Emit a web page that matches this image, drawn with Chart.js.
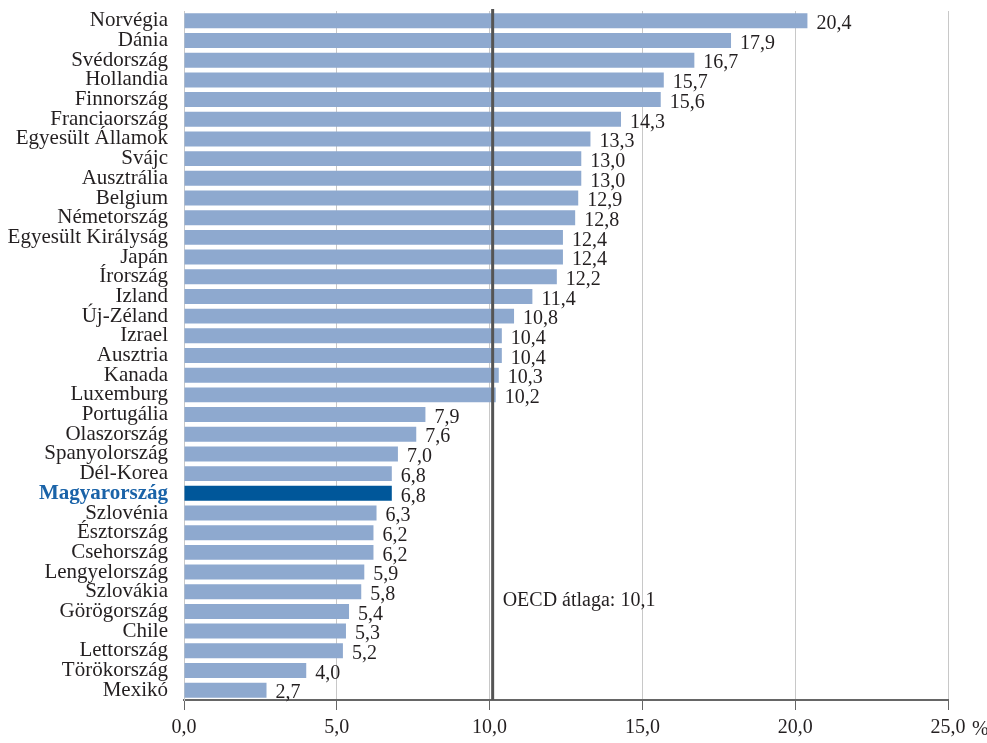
<!DOCTYPE html>
<html lang="hu">
<head>
<meta charset="UTF-8">
<title>OECD</title>
<script src="https://cdn.jsdelivr.net/npm/chart.js"></script>
<style>
  body { margin: 0; background: #fff; }
  #wrap { width: 987px; height: 743px; }
</style>
</head>
<body>
<div id="wrap"><canvas id="chart" width="987" height="743"></canvas></div>
<script>
const countries = ['Norvégia', 'Dánia', 'Svédország', 'Hollandia', 'Finnország', 'Franciaország',
  'Egyesült Államok', 'Svájc', 'Ausztrália', 'Belgium', 'Németország', 'Egyesült Királyság',
  'Japán', 'Írország', 'Izland', 'Új-Zéland', 'Izrael', 'Ausztria', 'Kanada', 'Luxemburg',
  'Portugália', 'Olaszország', 'Spanyolország', 'Dél-Korea', 'Magyarország', 'Szlovénia',
  'Észtország', 'Csehország', 'Lengyelország', 'Szlovákia', 'Görögország', 'Chile',
  'Lettország', 'Törökország', 'Mexikó'];
const values = [20.4, 17.9, 16.7, 15.7, 15.6, 14.3, 13.3, 13.0, 13.0, 12.9, 12.8, 12.4,
  12.4, 12.2, 11.4, 10.8, 10.4, 10.4, 10.3, 10.2, 7.9, 7.6, 7.0, 6.8, 6.8, 6.3,
  6.2, 6.2, 5.9, 5.8, 5.4, 5.3, 5.2, 4.0, 2.7];
const highlight = 'Magyarország';
const oecdAvg = 10.1;
const oecdLabel = 'OECD átlaga: 10,1';
const xTicks = [0, 5, 10, 15, 20, 25];

const FONT = "'Liberation Serif', 'Times New Roman', serif";
const TEXT = '#231f20';
const fmt = v => v.toFixed(1).replace('.', ',');

// value labels, OECD line and the % sign
const extras = {
  id: 'extras',
  afterDatasetsDraw(chart) {
    const ctx = chart.ctx;
    const x = chart.scales.x;
    const area = chart.chartArea;
    const meta = chart.getDatasetMeta(0);

    ctx.save();
    ctx.font = '20px ' + FONT;
    ctx.fillStyle = TEXT;
    ctx.textAlign = 'left';
    ctx.textBaseline = 'middle';
    meta.data.forEach((bar, i) => {
      ctx.fillText(fmt(values[i]), bar.x + 9, bar.y + 3);
    });

    // OECD average line
    const ox = x.getPixelForValue(oecdAvg);
    ctx.strokeStyle = '#555';
    ctx.lineWidth = 3;
    ctx.beginPath();
    ctx.moveTo(ox, area.top - 2);
    ctx.lineTo(ox, area.bottom);
    ctx.stroke();
    ctx.fillText(oecdLabel, ox + 10, 601);

    // % after last tick label
    ctx.fillText('%', x.getPixelForValue(25) + 24, 730);
    ctx.restore();
  }
};

new Chart(document.getElementById('chart'), {
  type: 'bar',
  data: {
    labels: countries,
    datasets: [{
      data: values,
      backgroundColor: countries.map(c => c === highlight ? '#00579a' : '#8ea9cf'),
      borderWidth: 0,
      barPercentage: 0.76,
      categoryPercentage: 1.0
    }]
  },
  options: {
    indexAxis: 'y',
    responsive: false,
    animation: false,
    layout: { padding: { top: 11, right: 39, left: 0, bottom: 0 } },
    plugins: {
      legend: { display: false },
      tooltip: { enabled: false }
    },
    scales: {
      x: {
        min: 0,
        max: 25,
        afterBuildTicks: s => { s.ticks = xTicks.map(v => ({ value: v })); },
        afterFit: s => { s.height = 43; },
        grid: {
          color: '#c8c8c8',
          lineWidth: 1,
          tickColor: '#666',
          tickLength: 10,
          drawTicks: true
        },
        border: { color: '#666', width: 2 },
        ticks: {
          callback: v => fmt(v),
          font: { family: FONT, size: 20 },
          color: TEXT,
          padding: 6,
          maxRotation: 0
        }
      },
      y: {
        afterFit: s => { s.width = 184; s.paddingTop = 0; s.paddingBottom = 0; },
        grid: { display: false },
        border: { color: '#c8c8c8', width: 1 },
        ticks: {
          autoSkip: false,
          padding: 8,
          font: c => ({
            family: FONT,
            size: 21,
            weight: countries[c.index] === highlight ? 'bold' : 'normal'
          }),
          color: c => countries[c.index] === highlight ? '#1a63a8' : TEXT
        }
      }
    }
  },
  plugins: [extras]
});
</script>
</body>
</html>
